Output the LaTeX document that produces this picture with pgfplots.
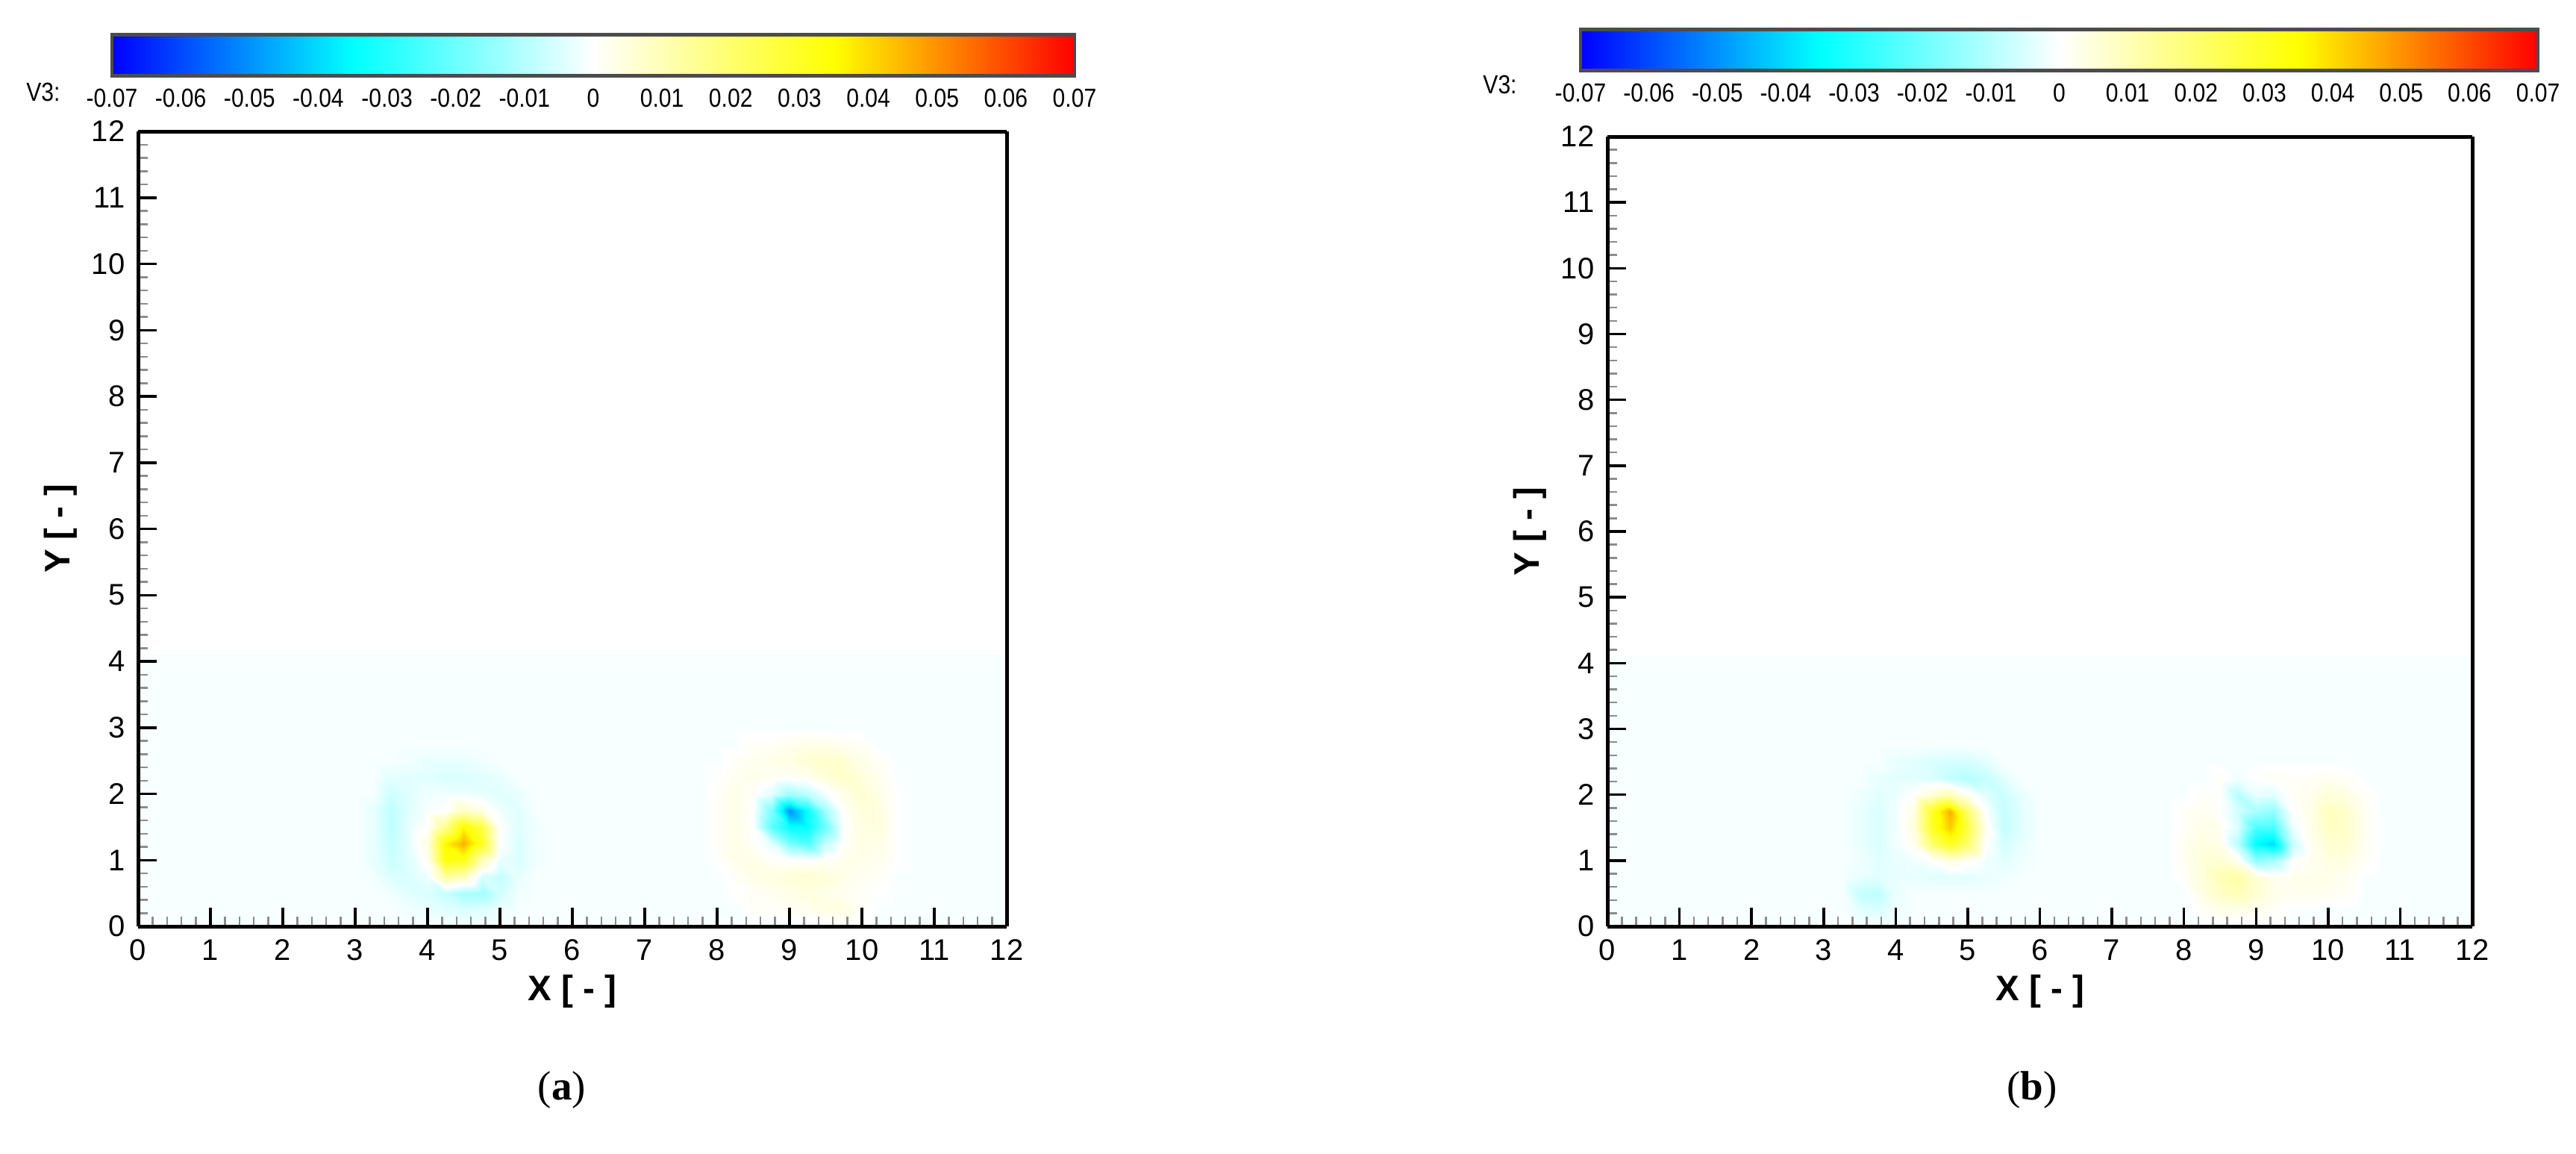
\documentclass[border=0pt]{standalone}
\usepackage{fontspec}
\setmainfont{Liberation Sans}
\newfontfamily\capfont{Liberation Serif}
\newfontfamily\cbfont[FakeStretch=0.86]{Liberation Sans}
\usepackage{pgfplots}
\pgfplotsset{compat=1.18}
\definecolor{bgc}{RGB}{248,255,255}
\pgfplotsset{
  panel/.style={
    scale only axis,
    xmin=0, xmax=12, ymin=0, ymax=12,
    view={0}{90}, hide z axis, scaled ticks=false, scaled z ticks=false, ztick=\empty,
    xtick={0,1,...,12}, ytick={0,1,...,12}, minor tick num=4,
    tick align=inside, xtick pos=bottom, ytick pos=left,
    major tick length=5pt, minor tick length=2.6pt,
    every major tick/.append style={line width=0.7pt, black},
    every minor tick/.append style={line width=0.5pt, black!45},
    axis line style={line width=1pt},
    tick label style={font=\fontsize{8}{9}\selectfont},
    label style={font=\fontsize{9.5}{11}\selectfont\bfseries},
    xlabel={X [ - ]}, ylabel={Y [ - ]},
    xlabel shift=-3pt, ylabel shift=-3pt,
    /pgf/number format/assume math mode=true,
    colormap={v3}{rgb255(0cm)=(0,0,255); rgb255(1cm)=(0,255,255); rgb255(2cm)=(255,255,255); rgb255(3cm)=(255,255,0); rgb255(4cm)=(255,0,0)},
    point meta min=-0.07, point meta max=0.07,
    axis on top,
    colorbar horizontal,
  },
  cbar/.style={
    anchor=south west,
    scale only axis, width=258pt, height=11pt,
    scaled x ticks=false, scaled ticks=false,
    xtick={-0.07,-0.06,-0.05,-0.04,-0.03,-0.02,-0.01,0,0.01,0.02,0.03,0.04,0.05,0.06,0.07},
    xticklabels={-0.07,-0.06,-0.05,-0.04,-0.03,-0.02,-0.01,0,0.01,0.02,0.03,0.04,0.05,0.06,0.07},
    xticklabel style={font=\cbfont\fontsize{7}{8}\selectfont},
    major tick length=0pt,
    axis line style={draw=black!70, line width=0.9pt},
  },
}
\begin{document}
\begin{tikzpicture}
\path[use as bounding box] (0,0) rectangle (690.4pt,309pt);
% ---------------- panel (a) ----------------
\begin{axis}[panel, at={(37pt,60.8pt)}, anchor=south west, width=232.8pt, height=213pt,
  colorbar style={cbar, at={(parent axis.north west)}, xshift=-7pt, yshift=23.4pt}]
\addplot[draw=none, fill=bgc] coordinates {(0,0) (12,0) (12,4.1) (0,4.1)};
\addplot3[surf, shader=interp, mesh/cols=13, mesh/ordering=x varies] coordinates {
(3,0,-0.001) (3.25,0,-0.001) (3.5,0,-0.001) (3.75,0,-0.001) (4,0,-0.001) (4.25,0,-0.001) (4.5,0,-0.001) (4.75,0,-0.001) (5,0,-0.001) (5.25,0,-0.001) (5.5,0,-0.001) (5.75,0,-0.001) (6,0,-0.001)
(3,0.25,-0.001) (3.25,0.25,-0.001) (3.5,0.25,-0.001) (3.75,0.25,-0.002) (4,0.25,-0.003) (4.25,0.25,-0.004) (4.5,0.25,-0.005) (4.75,0.25,-0.004) (5,0.25,-0.002) (5.25,0.25,-0.001) (5.5,0.25,-0.001) (5.75,0.25,-0.001) (6,0.25,-0.001)
(3,0.5,-0.001) (3.25,0.5,-0.001) (3.5,0.5,-0.002) (3.75,0.5,-0.004) (4,0.5,-0.005) (4.25,0.5,-0.008) (4.5,0.5,-0.012) (4.75,0.5,-0.013) (5,0.5,-0.006) (5.25,0.5,-0.002) (5.5,0.5,-0.001) (5.75,0.5,-0.001) (6,0.5,-0.001)
(3,0.75,-0.001) (3.25,0.75,-0.002) (3.5,0.75,-0.005) (3.75,0.75,-0.005) (4,0.75,-0.002) (4.25,0.75,0.014) (4.5,0.75,0.010) (4.75,0.75,-0.005) (5,0.75,-0.008) (5.25,0.75,-0.003) (5.5,0.75,-0.001) (5.75,0.75,-0.001) (6,0.75,-0.001)
(3,1,-0.001) (3.25,1,-0.003) (3.5,1,-0.007) (3.75,1,-0.004) (4,1,0.002) (4.25,1,0.034) (4.5,1,0.032) (4.75,1,0.010) (5,1,-0.003) (5.25,1,-0.005) (5.5,1,-0.002) (5.75,1,-0.001) (6,1,-0.001)
(3,1.25,-0.001) (3.25,1.25,-0.003) (3.5,1.25,-0.008) (3.75,1.25,-0.003) (4,1.25,0.004) (4.25,1.25,0.036) (4.5,1.25,0.046) (4.75,1.25,0.030) (5,1.25,0.000) (5.25,1.25,-0.005) (5.5,1.25,-0.002) (5.75,1.25,-0.001) (6,1.25,-0.001)
(3,1.5,-0.001) (3.25,1.5,-0.003) (3.5,1.5,-0.009) (3.75,1.5,-0.003) (4,1.5,0.000) (4.25,1.5,0.016) (4.5,1.5,0.036) (4.75,1.5,0.026) (5,1.5,0.000) (5.25,1.5,-0.004) (5.5,1.5,-0.002) (5.75,1.5,-0.001) (6,1.5,-0.001)
(3,1.75,-0.001) (3.25,1.75,-0.003) (3.5,1.75,-0.009) (3.75,1.75,-0.004) (4,1.75,-0.001) (4.25,1.75,0.000) (4.5,1.75,0.008) (4.75,1.75,0.004) (5,1.75,-0.002) (5.25,1.75,-0.004) (5.5,1.75,-0.001) (5.75,1.75,-0.001) (6,1.75,-0.001)
(3,2,-0.001) (3.25,2,-0.001) (3.5,2,-0.007) (3.75,2,-0.004) (4,2,-0.002) (4.25,2,-0.002) (4.5,2,-0.002) (4.75,2,-0.003) (5,2,-0.004) (5.25,2,-0.003) (5.5,2,-0.001) (5.75,2,-0.001) (6,2,-0.001)
(3,2.25,-0.001) (3.25,2.25,-0.001) (3.5,2.25,-0.004) (3.75,2.25,-0.004) (4,2.25,-0.004) (4.25,2.25,-0.005) (4.5,2.25,-0.005) (4.75,2.25,-0.004) (5,2.25,-0.003) (5.25,2.25,-0.001) (5.5,2.25,-0.001) (5.75,2.25,-0.001) (6,2.25,-0.001)
(3,2.5,-0.001) (3.25,2.5,-0.001) (3.5,2.5,-0.001) (3.75,2.5,-0.002) (4,2.5,-0.003) (4.25,2.5,-0.003) (4.5,2.5,-0.003) (4.75,2.5,-0.002) (5,2.5,-0.001) (5.25,2.5,-0.001) (5.5,2.5,-0.001) (5.75,2.5,-0.001) (6,2.5,-0.001)
(3,2.75,-0.001) (3.25,2.75,-0.001) (3.5,2.75,-0.001) (3.75,2.75,-0.001) (4,2.75,-0.001) (4.25,2.75,-0.001) (4.5,2.75,-0.001) (4.75,2.75,-0.001) (5,2.75,-0.001) (5.25,2.75,-0.001) (5.5,2.75,-0.001) (5.75,2.75,-0.001) (6,2.75,-0.001)
};
\addplot3[surf, shader=interp, mesh/cols=13, mesh/ordering=x varies] coordinates {
(7.75,0,-0.001) (8,0,-0.001) (8.25,0,-0.001) (8.5,0,-0.001) (8.75,0,-0.001) (9,0,-0.001) (9.25,0,-0.001) (9.5,0,-0.001) (9.75,0,-0.001) (10,0,-0.001) (10.25,0,-0.001) (10.5,0,-0.001) (10.75,0,-0.001)
(7.75,0.25,-0.001) (8,0.25,-0.001) (8.25,0.25,-0.001) (8.5,0.25,0.001) (8.75,0.25,0.001) (9,0.25,0.001) (9.25,0.25,0.002) (9.5,0.25,0.004) (9.75,0.25,0.004) (10,0.25,0.001) (10.25,0.25,-0.001) (10.5,0.25,-0.001) (10.75,0.25,-0.001)
(7.75,0.5,-0.001) (8,0.5,-0.001) (8.25,0.5,0.000) (8.5,0.5,0.001) (8.75,0.5,0.002) (9,0.5,0.003) (9.25,0.5,0.004) (9.5,0.5,0.003) (9.75,0.5,0.002) (10,0.5,0.001) (10.25,0.5,0.000) (10.5,0.5,-0.001) (10.75,0.5,-0.001)
(7.75,0.75,-0.001) (8,0.75,-0.001) (8.25,0.75,0.001) (8.5,0.75,0.003) (8.75,0.75,0.004) (9,0.75,0.005) (9.25,0.75,0.006) (9.5,0.75,0.005) (9.75,0.75,0.003) (10,0.75,0.002) (10.25,0.75,0.001) (10.5,0.75,-0.001) (10.75,0.75,-0.001)
(7.75,1,-0.001) (8,1,0.000) (8.25,1,0.003) (8.5,1,0.003) (8.75,1,0.001) (9,1,0.000) (9.25,1,0.000) (9.5,1,0.001) (9.75,1,0.003) (10,1,0.003) (10.25,1,0.002) (10.5,1,0.000) (10.75,1,-0.001)
(7.75,1.25,-0.001) (8,1.25,0.001) (8.25,1.25,0.003) (8.5,1.25,0.001) (8.75,1.25,-0.004) (9,1.25,-0.018) (9.25,1.25,-0.024) (9.5,1.25,-0.008) (9.75,1.25,0.001) (10,1.25,0.004) (10.25,1.25,0.003) (10.5,1.25,0.000) (10.75,1.25,-0.001)
(7.75,1.5,-0.001) (8,1.5,0.001) (8.25,1.5,0.003) (8.5,1.5,0.000) (8.75,1.5,-0.022) (9,1.5,-0.034) (9.25,1.5,-0.034) (9.5,1.5,-0.020) (9.75,1.5,0.000) (10,1.5,0.004) (10.25,1.5,0.004) (10.5,1.5,0.000) (10.75,1.5,-0.001)
(7.75,1.75,-0.001) (8,1.75,0.001) (8.25,1.75,0.003) (8.5,1.75,0.000) (8.75,1.75,-0.018) (9,1.75,-0.050) (9.25,1.75,-0.034) (9.5,1.75,-0.013) (9.75,1.75,0.001) (10,1.75,0.005) (10.25,1.75,0.004) (10.5,1.75,0.000) (10.75,1.75,-0.001)
(7.75,2,-0.001) (8,2,0.001) (8.25,2,0.003) (8.5,2,0.001) (8.75,2,-0.004) (9,2,-0.013) (9.25,2,-0.009) (9.5,2,-0.002) (9.75,2,0.003) (10,2,0.006) (10.25,2,0.003) (10.5,2,0.000) (10.75,2,-0.001)
(7.75,2.25,-0.001) (8,2.25,0.000) (8.25,2.25,0.002) (8.5,2.25,0.003) (8.75,2.25,0.002) (9,2.25,0.001) (9.25,2.25,0.002) (9.5,2.25,0.005) (9.75,2.25,0.007) (10,2.25,0.005) (10.25,2.25,0.002) (10.5,2.25,-0.001) (10.75,2.25,-0.001)
(7.75,2.5,-0.001) (8,2.5,-0.001) (8.25,2.5,0.001) (8.5,2.5,0.002) (8.75,2.5,0.003) (9,2.5,0.004) (9.25,2.5,0.006) (9.5,2.5,0.007) (9.75,2.5,0.006) (10,2.5,0.003) (10.25,2.5,0.001) (10.5,2.5,-0.001) (10.75,2.5,-0.001)
(7.75,2.75,-0.001) (8,2.75,-0.001) (8.25,2.75,-0.001) (8.5,2.75,0.001) (8.75,2.75,0.001) (9,2.75,0.002) (9.25,2.75,0.003) (9.5,2.75,0.003) (9.75,2.75,0.002) (10,2.75,0.001) (10.25,2.75,-0.001) (10.5,2.75,-0.001) (10.75,2.75,-0.001)
(7.75,3,-0.001) (8,3,-0.001) (8.25,3,-0.001) (8.5,3,-0.001) (8.75,3,-0.001) (9,3,-0.001) (9.25,3,-0.001) (9.5,3,-0.001) (9.75,3,-0.001) (10,3,-0.001) (10.25,3,-0.001) (10.5,3,-0.001) (10.75,3,-0.001)
};
\end{axis}
% ---------------- panel (b) ----------------
\begin{axis}[panel, at={(430.8pt,60.8pt)}, anchor=south west, width=231.8pt, height=211.6pt,
  colorbar style={cbar, width=256.6pt, at={(parent axis.north west)}, xshift=-7.2pt, yshift=26.2pt}]
\addplot[draw=none, fill=bgc] coordinates {(0,0) (12,0) (12,4.1) (0,4.1)};
\addplot3[surf, shader=interp, mesh/cols=14, mesh/ordering=x varies] coordinates {
(3,0,-0.001) (3.25,0,-0.001) (3.5,0,-0.001) (3.75,0,-0.001) (4,0,-0.001) (4.25,0,-0.001) (4.5,0,-0.001) (4.75,0,-0.001) (5,0,-0.001) (5.25,0,-0.001) (5.5,0,-0.001) (5.75,0,-0.001) (6,0,-0.001) (6.25,0,-0.001)
(3,0.25,-0.001) (3.25,0.25,-0.001) (3.5,0.25,-0.004) (3.75,0.25,-0.005) (4,0.25,-0.002) (4.25,0.25,-0.001) (4.5,0.25,-0.001) (4.75,0.25,-0.001) (5,0.25,-0.001) (5.25,0.25,-0.001) (5.5,0.25,-0.001) (5.75,0.25,-0.001) (6,0.25,-0.001) (6.25,0.25,-0.001)
(3,0.5,-0.001) (3.25,0.5,-0.001) (3.5,0.5,-0.008) (3.75,0.5,-0.009) (4,0.5,-0.003) (4.25,0.5,-0.001) (4.5,0.5,-0.001) (4.75,0.5,-0.001) (5,0.5,-0.001) (5.25,0.5,-0.001) (5.5,0.5,-0.001) (5.75,0.5,-0.001) (6,0.5,-0.001) (6.25,0.5,-0.001)
(3,0.75,-0.001) (3.25,0.75,-0.001) (3.5,0.75,-0.003) (3.75,0.75,-0.004) (4,0.75,-0.003) (4.25,0.75,-0.003) (4.5,0.75,-0.004) (4.75,0.75,-0.004) (5,0.75,-0.004) (5.25,0.75,-0.003) (5.5,0.75,-0.002) (5.75,0.75,-0.001) (6,0.75,-0.001) (6.25,0.75,-0.001)
(3,1,-0.001) (3.25,1,-0.001) (3.5,1,-0.002) (3.75,1,-0.004) (4,1,-0.003) (4.25,1,-0.002) (4.5,1,0.000) (4.75,1,0.004) (5,1,0.001) (5.25,1,-0.002) (5.5,1,-0.004) (5.75,1,-0.002) (6,1,-0.001) (6.25,1,-0.001)
(3,1.25,-0.001) (3.25,1.25,-0.001) (3.5,1.25,-0.003) (3.75,1.25,-0.005) (4,1.25,-0.002) (4.25,1.25,0.002) (4.5,1.25,0.020) (4.75,1.25,0.030) (5,1.25,0.020) (5.25,1.25,0.000) (5.5,1.25,-0.006) (5.75,1.25,-0.003) (6,1.25,-0.001) (6.25,1.25,-0.001)
(3,1.5,-0.001) (3.25,1.5,-0.001) (3.5,1.5,-0.003) (3.75,1.5,-0.005) (4,1.5,-0.002) (4.25,1.5,0.005) (4.5,1.5,0.030) (4.75,1.5,0.042) (5,1.5,0.025) (5.25,1.5,0.002) (5.5,1.5,-0.008) (5.75,1.5,-0.004) (6,1.5,-0.001) (6.25,1.5,-0.001)
(3,1.75,-0.001) (3.25,1.75,-0.001) (3.5,1.75,-0.003) (3.75,1.75,-0.005) (4,1.75,-0.002) (4.25,1.75,0.004) (4.5,1.75,0.030) (4.75,1.75,0.046) (5,1.75,0.020) (5.25,1.75,0.000) (5.5,1.75,-0.008) (5.75,1.75,-0.004) (6,1.75,-0.001) (6.25,1.75,-0.001)
(3,2,-0.001) (3.25,2,-0.001) (3.5,2,-0.002) (3.75,2,-0.004) (4,2,-0.003) (4.25,2,0.000) (4.5,2,0.006) (4.75,2,0.010) (5,2,0.002) (5.25,2,-0.004) (5.5,2,-0.007) (5.75,2,-0.003) (6,2,-0.001) (6.25,2,-0.001)
(3,2.25,-0.001) (3.25,2.25,-0.001) (3.5,2.25,-0.001) (3.75,2.25,-0.003) (4,2.25,-0.004) (4.25,2.25,-0.004) (4.5,2.25,-0.005) (4.75,2.25,-0.008) (5,2.25,-0.010) (5.25,2.25,-0.008) (5.5,2.25,-0.004) (5.75,2.25,-0.001) (6,2.25,-0.001) (6.25,2.25,-0.001)
(3,2.5,-0.001) (3.25,2.5,-0.001) (3.5,2.5,-0.001) (3.75,2.5,-0.001) (4,2.5,-0.003) (4.25,2.5,-0.004) (4.5,2.5,-0.005) (4.75,2.5,-0.006) (5,2.5,-0.006) (5.25,2.5,-0.004) (5.5,2.5,-0.001) (5.75,2.5,-0.001) (6,2.5,-0.001) (6.25,2.5,-0.001)
(3,2.75,-0.001) (3.25,2.75,-0.001) (3.5,2.75,-0.001) (3.75,2.75,-0.001) (4,2.75,-0.001) (4.25,2.75,-0.001) (4.5,2.75,-0.001) (4.75,2.75,-0.001) (5,2.75,-0.001) (5.25,2.75,-0.001) (5.5,2.75,-0.001) (5.75,2.75,-0.001) (6,2.75,-0.001) (6.25,2.75,-0.001)
};
\addplot3[surf, shader=interp, mesh/cols=13, mesh/ordering=x varies] coordinates {
(7.75,0,-0.001) (8,0,-0.001) (8.25,0,-0.001) (8.5,0,-0.001) (8.75,0,-0.001) (9,0,-0.001) (9.25,0,-0.001) (9.5,0,-0.001) (9.75,0,-0.001) (10,0,-0.001) (10.25,0,-0.001) (10.5,0,-0.001) (10.75,0,-0.001)
(7.75,0.25,-0.001) (8,0.25,-0.001) (8.25,0.25,0.001) (8.5,0.25,0.003) (8.75,0.25,0.003) (9,0.25,0.002) (9.25,0.25,0.001) (9.5,0.25,-0.001) (9.75,0.25,-0.001) (10,0.25,-0.001) (10.25,0.25,-0.001) (10.5,0.25,-0.001) (10.75,0.25,-0.001)
(7.75,0.5,-0.001) (8,0.5,-0.001) (8.25,0.5,0.004) (8.5,0.5,0.008) (8.75,0.5,0.010) (9,0.5,0.006) (9.25,0.5,0.003) (9.5,0.5,0.002) (9.75,0.5,0.002) (10,0.5,0.002) (10.25,0.5,0.001) (10.5,0.5,-0.001) (10.75,0.5,-0.001)
(7.75,0.75,-0.001) (8,0.75,0.001) (8.25,0.75,0.005) (8.5,0.75,0.010) (8.75,0.75,0.012) (9,0.75,0.006) (9.25,0.75,0.002) (9.5,0.75,0.003) (9.75,0.75,0.003) (10,0.75,0.003) (10.25,0.75,0.002) (10.5,0.75,-0.001) (10.75,0.75,-0.001)
(7.75,1,-0.001) (8,1,0.002) (8.25,1,0.005) (8.5,1,0.006) (8.75,1,0.002) (9,1,-0.015) (9.25,1,-0.012) (9.5,1,0.000) (9.75,1,0.002) (10,1,0.004) (10.25,1,0.004) (10.5,1,0.001) (10.75,1,-0.001)
(7.75,1.25,-0.001) (8,1.25,0.002) (8.25,1.25,0.004) (8.5,1.25,0.003) (8.75,1.25,-0.010) (9,1.25,-0.035) (9.25,1.25,-0.040) (9.5,1.25,-0.008) (9.75,1.25,0.002) (10,1.25,0.006) (10.25,1.25,0.006) (10.5,1.25,0.002) (10.75,1.25,-0.001)
(7.75,1.5,-0.001) (8,1.5,0.001) (8.25,1.5,0.003) (8.5,1.5,0.002) (8.75,1.5,-0.005) (9,1.5,-0.025) (9.25,1.5,-0.025) (9.5,1.5,-0.003) (9.75,1.5,0.003) (10,1.5,0.008) (10.25,1.5,0.007) (10.5,1.5,0.002) (10.75,1.5,-0.001)
(7.75,1.75,-0.001) (8,1.75,0.001) (8.25,1.75,0.002) (8.5,1.75,0.000) (8.75,1.75,-0.006) (9,1.75,-0.012) (9.25,1.75,-0.015) (9.5,1.75,0.000) (9.75,1.75,0.003) (10,1.75,0.009) (10.25,1.75,0.007) (10.5,1.75,0.002) (10.75,1.75,-0.001)
(7.75,2,-0.001) (8,2,-0.001) (8.25,2,0.001) (8.5,2,0.000) (8.75,2,-0.010) (9,2,-0.003) (9.25,2,-0.004) (9.5,2,0.001) (9.75,2,0.002) (10,2,0.005) (10.25,2,0.004) (10.5,2,0.001) (10.75,2,-0.001)
(7.75,2.25,-0.001) (8,2.25,-0.001) (8.25,2.25,-0.001) (8.5,2.25,0.001) (8.75,2.25,-0.002) (9,2.25,0.000) (9.25,2.25,0.001) (9.5,2.25,0.001) (9.75,2.25,0.001) (10,2.25,0.002) (10.25,2.25,0.001) (10.5,2.25,-0.001) (10.75,2.25,-0.001)
(7.75,2.5,-0.001) (8,2.5,-0.001) (8.25,2.5,-0.001) (8.5,2.5,-0.001) (8.75,2.5,-0.001) (9,2.5,-0.001) (9.25,2.5,-0.001) (9.5,2.5,-0.001) (9.75,2.5,-0.001) (10,2.5,-0.001) (10.25,2.5,-0.001) (10.5,2.5,-0.001) (10.75,2.5,-0.001)
(7.75,2.75,-0.001) (8,2.75,-0.001) (8.25,2.75,-0.001) (8.5,2.75,-0.001) (8.75,2.75,-0.001) (9,2.75,-0.001) (9.25,2.75,-0.001) (9.5,2.75,-0.001) (9.75,2.75,-0.001) (10,2.75,-0.001) (10.25,2.75,-0.001) (10.5,2.75,-0.001) (10.75,2.75,-0.001)
};
\end{axis}
% labels
\node[font=\cbfont\fontsize{7}{8}\selectfont] at (11.6pt,284.4pt) {V3:};
\node[font=\cbfont\fontsize{7}{8}\selectfont] at (402pt,286.4pt) {V3:};
\node[font=\capfont\fontsize{11}{13}\selectfont] at (150.6pt,17pt) {(\textbf{a})};
\node[font=\capfont\fontsize{11}{13}\selectfont] at (544.6pt,17pt) {(\textbf{b})};
\end{tikzpicture}
\end{document}
